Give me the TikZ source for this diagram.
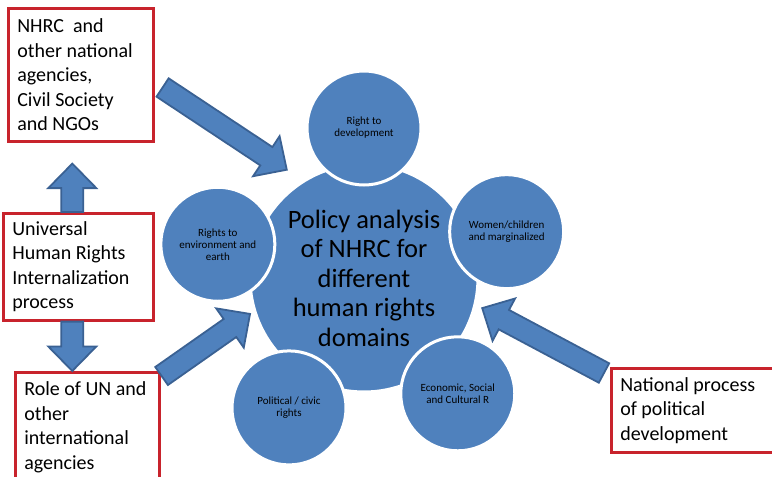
\documentclass[tikz,border=0pt]{standalone}
\usepackage{fontspec}
\setmainfont{Carlito}
\usepackage{tikz}
\usetikzlibrary{calc}

\definecolor{ballblue}{HTML}{4F81BD}
\definecolor{arrowedge}{HTML}{3A6193}
\definecolor{boxred}{HTML}{C8232C}

% fat arrows: half shaft width, half head width, head length
\newcommand\shafthalf{11pt}
\newcommand\headhalf{24pt}
\newcommand\headlen{24.5pt}

\begin{document}
\begin{tikzpicture}[
  x=1pt,y=1pt,
  actor/.style={draw=boxred,line width=2.6pt,fill=white,anchor=north west,align=flush left,
    inner xsep=9pt,inner ysep=0pt,font=\fontsize{20}{24.4}\selectfont},
  ball/.style={circle,fill=ballblue,draw=white,line width=3pt,minimum size=114pt,
    inner sep=0pt,align=center,font=\fontsize{11}{12}\selectfont},
  hubball/.style={ball,minimum size=228pt,font=\fontsize{26.5}{29.5}\selectfont},
  fatarrow/.style={fill=ballblue,draw=arrowedge,line width=1.8pt,line join=miter,
    to path={
      ($(\tikztotarget)!\headlen!(\tikztostart)$) coordinate (hb)
      ($(\tikztostart)!\shafthalf!90:(\tikztotarget)$)
      -- ($(hb)!\shafthalf!90:(\tikztotarget)$)
      -- ($(hb)!\headhalf!90:(\tikztotarget)$)
      -- (\tikztotarget)
      -- ($(hb)!\headhalf!-90:(\tikztotarget)$)
      -- ($(hb)!\shafthalf!-90:(\tikztotarget)$)
      -- ($(\tikztostart)!\shafthalf!-90:(\tikztotarget)$)
      -- cycle}}
]
\useasboundingbox (0,0) rectangle (772,-477);

% actors round the hub
\node[actor,text width=127pt,minimum height=133pt] (nhrc) at (7,-7)
  {NHRC\ \ and\\other national\\agencies,\\Civil Society\\and NGOs};
\node[actor,text width=132pt,minimum height=107pt] (univ) at (2,-212)
  {Universal\\Human Rights\\Internalization\\process};
\node[actor,text width=126pt,minimum height=110pt] (unrole) at (14,-371)
  {Role of UN and\\other\\international\\agencies};
\node[actor,text width=154pt,minimum height=84pt] (natproc) at (610,-367)
  {National process\\of political\\development};

% hub and its domains
\node[hubball] (hub) at (364,-278)
  {Policy analysis\\of NHRC for\\different\\human rights\\domains};
\node[ball] (devel) at ([shift={(90:150)}]hub.center) {Right to\\development};
\node[ball] (women) at ([shift={(18:150)}]hub.center) {Women/children\\and marginalized};
\node[ball] (econ) at ([shift={(-51:149)}]hub.center) {Economic, Social\\and Cultural R};
\node[ball] (polit) at ([shift={(-120:150)}]hub.center) {Political / civic\\rights};
\node[ball] (envir) at ([shift={(167:150)}]hub.center) {Rights to\\environment and\\earth};

% arrow ends
\coordinate (nhrcfoot) at ([shift={(8,-12.7)}]nhrc.east);
\coordinate (nhrctip) at ([shift={(125.5:133)}]hub.center);
\coordinate (upfoot) at ([xshift=-6pt]univ.north);
\coordinate (uptip) at ($(upfoot |- nhrc.south)+(0,-21)$);
\coordinate (downfoot) at ([xshift=-6pt]univ.south);
\coordinate (downtip) at (downfoot |- unrole.north);
\coordinate (unrolefoot) at ([shift={(1,-5)}]unrole.north east);
\coordinate (unroletip) at ([shift={(197.5:119.5)}]hub.center);
\coordinate (natfoot) at ([shift={(-6,-6)}]natproc.north west);
\coordinate (nattip) at ([shift={(-14.3:122)}]hub.center);

\path[fatarrow] (nhrcfoot) to (nhrctip);
\path[fatarrow] (upfoot) to (uptip);
\path[fatarrow] (downfoot) to (downtip);
\path[fatarrow] (unrolefoot) to (unroletip);
\path[fatarrow] (natfoot) to (nattip);
\end{tikzpicture}
\end{document}
